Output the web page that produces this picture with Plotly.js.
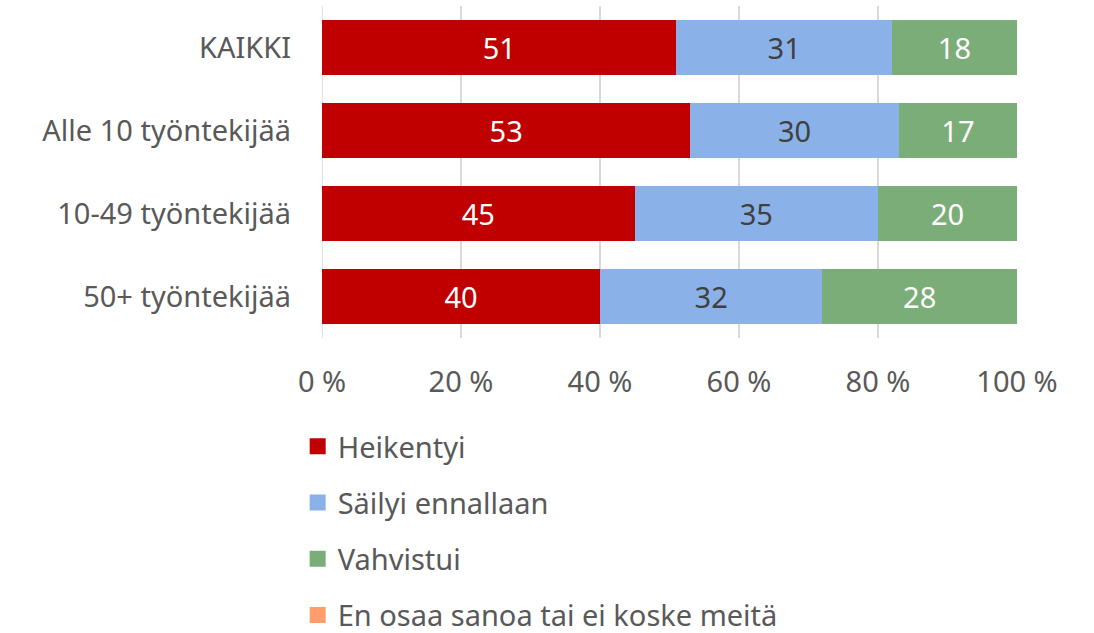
<!DOCTYPE html>
<html><head><meta charset="utf-8">
<script src="https://cdn.plot.ly/plotly-3.0.1.min.js"></script>
<style>html,body{margin:0;padding:0;background:#fff}#chart{width:1094px;height:633px}</style>
</head><body><div id="chart"></div>
<script>
const categories = ["KAIKKI", "Alle 10 työntekijää", "10-49 työntekijää", "50+ työntekijää"];
const seriesNames = ["Heikentyi", "Säilyi ennallaan", "Vahvistui", "En osaa sanoa tai ei koske meitä"];
const heikentyi = [51, 53, 45, 40];
const sailyi = [31, 30, 35, 32];
const vahvistui = [18, 17, 20, 28];
const enOsaa = [0, 0, 0, 0];
const xTicks = [0, 20, 40, 60, 80, 100];
const colors = ["#C00000", "#8AB2E8", "#7BAD78", "#FF9E6B"];
const labelColors = ["#FFFFFF", "#404040", "#FFFFFF", "#404040"];

const FONT = "Noto Sans, Open Sans, sans-serif";
const FS = 29;
const allValues = [heikentyi, sailyi, vahvistui, enOsaa];
const traces = [];
allValues.forEach((vals, i) => {
  traces.push({
    type: "bar", orientation: "h", x: vals, y: categories, name: seriesNames[i],
    marker: {color: colors[i]}, showlegend: false,
    text: vals.map(v => v > 0 ? String(v) : ""), textposition: "inside",
    insidetextanchor: "middle", constraintext: "none",
    textfont: {family: FONT, size: FS, color: labelColors[i]},
    hoverinfo: "x+y+name"
  });
});
seriesNames.forEach((n, i) => {
  traces.push({
    type: "scatter", mode: "markers", x: [null], y: [null], name: n,
    marker: {symbol: "square", size: 18, color: colors[i]},
    legendgroup: "g" + i, showlegend: true, hoverinfo: "skip"
  });
});

const layout = {
  width: 1094, height: 633,
  margin: {l: 322, r: 77, t: 6, b: 295, autoexpand: false},
  barmode: "stack", bargap: 0.337,
  paper_bgcolor: "#fff", plot_bgcolor: "#fff",
  font: {family: FONT, size: FS, color: "#595959"},
  xaxis: {
    range: [0, 100], tickvals: xTicks, ticktext: xTicks.map(v => v + " %"),
    showgrid: true, gridcolor: "#D9D9D9", gridwidth: 1.5,
    zeroline: false, showline: false, ticks: "", ticklabelstandoff: 24,
    tickfont: {family: FONT, size: FS, color: "#595959"}, fixedrange: true
  },
  yaxis: {
    autorange: "reversed", type: "category", showgrid: false, zeroline: false,
    showline: false, ticks: "", ticklabelstandoff: 30,
    tickfont: {family: FONT, size: FS, color: "#595959"}, fixedrange: true
  },
  shapes: [{type: "line", xref: "x", yref: "paper", x0: 0, x1: 0, y0: 0, y1: 1,
            line: {color: "#D9D9D9", width: 1.5}, layer: "below"}],
  showlegend: true,
  legend: {
    orientation: "v", x: -0.035, xanchor: "left", yref: "container", y: 0.335, yanchor: "top",
    font: {family: FONT, size: FS, color: "#595959"},
    tracegroupgap: 15.5, itemwidth: 30, bgcolor: "rgba(0,0,0,0)"
  }
};
Plotly.newPlot("chart", traces, layout, {displayModeBar: false, staticPlot: true});
</script></body></html>
